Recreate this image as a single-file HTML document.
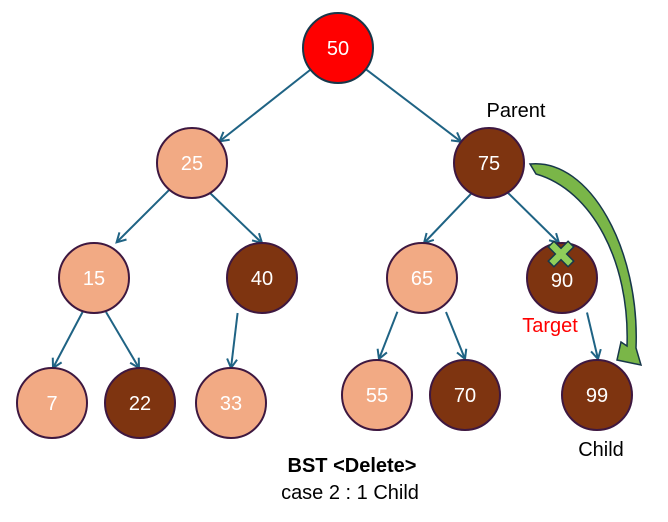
<!DOCTYPE html>
<html><head><meta charset="utf-8"><style>
html,body{margin:0;padding:0;background:#fff;}
svg{display:block;}
text{font-family:"Liberation Sans","DejaVu Sans",sans-serif;}
</style></head><body>
<svg width="668" height="522" viewBox="0 0 668 522" xmlns="http://www.w3.org/2000/svg">
<defs>
<marker id="a" markerWidth="12" markerHeight="12" refX="10" refY="6" orient="auto" markerUnits="userSpaceOnUse">
<path d="M1,1 L10,6 L1,11" fill="none" stroke="#1f6384" stroke-width="2"/>
</marker>
</defs>
<g stroke="#1f6384" stroke-width="2" marker-end="url(#a)">
<line x1="310.5" y1="69.6" x2="219.5" y2="141.4"/>
<line x1="365.8" y1="69.2" x2="461.2" y2="141.8"/>
<line x1="169.4" y1="189.7" x2="116.6" y2="242.3"/>
<line x1="210" y1="193" x2="262" y2="243"/>
<line x1="471.5" y1="193.3" x2="424" y2="243"/>
<line x1="507.7" y1="192.6" x2="559" y2="243"/>
<line x1="82.6" y1="312" x2="53" y2="368"/>
<line x1="106" y1="312" x2="139" y2="368"/>
<line x1="237.6" y1="313" x2="231" y2="368"/>
<line x1="397.4" y1="311.7" x2="379" y2="359"/>
<line x1="446" y1="312" x2="465" y2="359"/>
<line x1="587" y1="312.5" x2="598" y2="359"/>
</g>
<g stroke="#3e1840" stroke-width="2">
<circle cx="338" cy="48" r="35" fill="#ff0000" stroke="#17374a"/>
<circle cx="192" cy="163" r="35" fill="#f2aa84"/>
<circle cx="489" cy="163" r="35" fill="#7e3410"/>
<circle cx="94" cy="278" r="35" fill="#f2aa84"/>
<circle cx="262" cy="278" r="35" fill="#7e3410"/>
<circle cx="422" cy="278" r="35" fill="#f2aa84"/>
<circle cx="562" cy="278" r="35" fill="#7e3410"/>
<circle cx="52" cy="403" r="35" fill="#f2aa84"/>
<circle cx="140" cy="403" r="35" fill="#7e3410"/>
<circle cx="231" cy="403" r="35" fill="#f2aa84"/>
<circle cx="377" cy="395" r="35" fill="#f2aa84"/>
<circle cx="465" cy="395" r="35" fill="#7e3410"/>
<circle cx="597" cy="395" r="35" fill="#7e3410"/>
</g>
<g fill="#fff" font-size="20" text-anchor="middle">
<text x="338" y="55">50</text>
<text x="192" y="170">25</text>
<text x="489" y="170">75</text>
<text x="94" y="285">15</text>
<text x="262" y="285">40</text>
<text x="422" y="285">65</text>
<text x="562" y="287">90</text>
<text x="52" y="410">7</text>
<text x="140" y="410">22</text>
<text x="231" y="410">33</text>
<text x="377" y="402">55</text>
<text x="465" y="402">70</text>
<text x="597" y="402">99</text>
</g>
<path d="M530,164 C 590,158 640,250 636,348 L 641,365 L 617,360 L 621,342 L 627,346 C 630,262 592,190 536,174 Z" fill="#7ab648" stroke="#17374a" stroke-width="1.5"/>
<g transform="translate(561,254) rotate(45)">
<path d="M-4,-14 H4 V-4 H14 V4 H4 V14 H-4 V4 H-14 V-4 H-4 Z" fill="#8fce5a" stroke="#17374a" stroke-width="1.5"/>
</g>
<g font-size="20" text-anchor="middle">
<text x="516" y="117" fill="#000">Parent</text>
<text x="550" y="332" fill="#ff0000">Target</text>
<text x="601" y="456" fill="#000">Child</text>
<text x="352" y="472" font-weight="bold" fill="#000">BST &lt;Delete&gt;</text>
<text x="350" y="499" fill="#000">case 2 : 1 Child</text>
</g>
</svg>
</body></html>
